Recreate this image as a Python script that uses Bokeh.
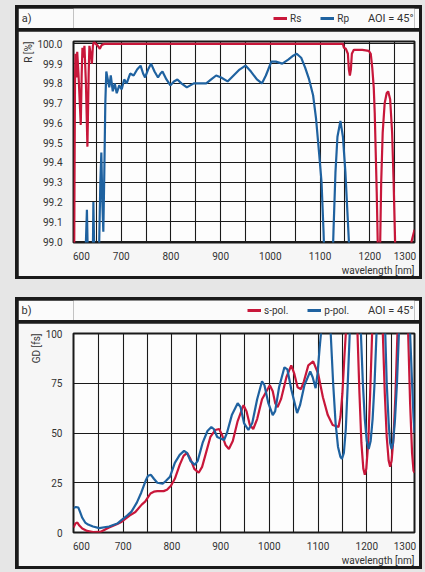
from bokeh.plotting import figure
from bokeh.layouts import column
from bokeh.models import (Range1d, FixedTicker, PrintfTickFormatter, Legend, LegendItem, Title, Label)
from bokeh.embed import file_html
from bokeh.resources import INLINE

# ---------------- data ----------------
# panel a: reflectance R [%]
wl_rs = [604, 606, 607, 608, 610, 611.5, 614, 618.6, 620.5, 622, 624, 626, 629, 632, 634.5, 636, 638.5, 641,
         643, 645, 649, 653, 657, 661, 666,
         1146, 1148, 1152, 1156, 1158, 1160, 1162, 1164, 1168, 1185, 1198, 1202, 1205, 1208, 1210, 1212, 1214,
         1216, 1218, 1219, 1221, 1223, 1226, 1230, 1234, 1237, 1241, 1245, 1248, 1251, 1254, 1260, 1270, 1278,
         1284, 1290]
rs = [98.0, 99.3, 99.8, 99.95, 99.83, 99.96, 99.85, 99.59, 99.85, 99.98, 99.93, 99.99, 99.8, 99.48, 99.85,
      99.99, 99.95, 99.9, 99.99, 100.01, 100.0, 99.99, 99.975, 99.995, 100.0,
      100.0, 99.98, 99.975, 99.95, 99.87, 99.84, 99.87, 99.95, 99.97, 99.97, 99.965, 99.95, 99.88, 99.78, 99.65,
      99.45, 99.25, 99.0, 98.7, 98.7, 99.0, 99.3, 99.55, 99.7, 99.75, 99.76, 99.72, 99.55, 99.3, 99.0, 98.6,
      98.3, 98.0, 98.3, 99.0, 99.06]

wl_rp = [604, 626, 629, 631, 633, 637, 642, 644, 646, 650, 655, 658, 660, 662, 664, 666, 668, 670, 673, 676,
         679, 683, 687, 691, 696, 701, 706, 711, 718, 725, 732, 739, 744, 748, 754, 760, 767, 774, 779, 783,
         791, 799, 806, 813, 821, 832, 839, 846, 859, 871, 881, 891, 901, 914, 926, 938, 950, 961, 973, 983,
         991, 1002, 1011, 1024, 1036, 1046, 1053, 1062, 1070, 1078, 1086, 1092, 1098, 1103, 1107, 1110, 1118,
         1124, 1127, 1131, 1135, 1141, 1146, 1151, 1155, 1159, 1163, 1170, 1290]
rp = [98.0, 98.6, 99.0, 99.16, 98.9, 98.5, 98.7, 99.2, 98.9, 98.6, 98.9, 99.3, 99.45, 99.2, 99.05, 99.35, 99.7,
      99.86, 99.82, 99.78, 99.84, 99.76, 99.80, 99.75, 99.79, 99.77, 99.82, 99.80, 99.85, 99.84, 99.87, 99.89,
      99.85, 99.83, 99.87, 99.90, 99.86, 99.83, 99.85, 99.86, 99.82, 99.79, 99.81, 99.82, 99.80, 99.78, 99.79,
      99.80, 99.80, 99.80, 99.82, 99.84, 99.83, 99.81, 99.84, 99.87, 99.89, 99.86, 99.82, 99.80, 99.84, 99.91,
      99.91, 99.90, 99.92, 99.94, 99.95, 99.93, 99.88, 99.82, 99.74, 99.62, 99.45, 99.3, 99.05, 98.8, 98.4,
      98.8, 99.05, 99.35, 99.53, 99.61, 99.53, 99.35, 99.15, 98.95, 98.6, 98.0, 98.0]

# panel b: group delay GD [fs]
wl_s = [598, 602, 606, 610, 616, 626, 638, 653, 671, 688, 697, 713, 725, 738, 745, 756, 763, 770, 783, 790,
        798, 806, 816, 824, 831, 838, 846, 855, 862, 870, 879, 889, 897, 903, 910, 917, 925, 935, 947, 953,
        960, 967, 975, 985, 1001, 1007, 1012, 1017, 1024, 1035, 1045, 1051, 1058, 1065, 1071, 1080, 1090,
        1100, 1110, 1120, 1130, 1142, 1146, 1150, 1154, 1157, 1162, 1176, 1181, 1185, 1189, 1193, 1196, 1199,
        1203, 1207, 1211, 1216, 1228, 1233, 1237, 1241, 1245, 1248, 1251, 1255, 1259, 1263, 1268, 1280, 1285,
        1289, 1293, 1296, 1298]
gd_s = [2.5, 4.5, 5, 3.5, 2, 0.8, 0.2, 0.3, 2.5, 4.3, 5.4, 8.5, 10.3, 14, 15.5, 19.6, 20.5, 20.8, 20.8, 21.5,
        23.5, 27, 34, 38.5, 40, 37, 32, 30, 33, 40, 48, 51.5, 52, 49, 44, 42, 46, 56, 64, 61,
        54, 52, 57, 67, 74, 71, 65, 63, 67, 78, 84, 80, 73, 72, 76, 84, 86,
        80, 68, 59, 54, 53, 58, 70, 88, 100, 130, 130, 100, 70, 45, 32, 29, 32,
        45, 70, 100, 130, 130, 100, 70, 48, 36, 33, 36, 48, 70, 100, 130, 130, 100,
        65, 40, 31, 30]

wl_p = [598, 603, 608, 612, 616, 622, 628, 638, 651, 671, 688, 697, 708, 717, 728, 737, 746, 751, 757, 763,
        770, 781, 788, 796, 806, 816, 825, 831, 838, 847, 853, 863, 873, 881, 886, 893, 907, 913, 923, 935,
        941, 948, 957, 965, 975, 985, 990, 998, 1007, 1012, 1020, 1031, 1037, 1045, 1057, 1063, 1072, 1084,
        1089, 1095, 1099, 1103, 1106, 1110, 1122, 1126, 1131, 1136, 1141, 1146, 1149, 1153, 1157, 1161, 1165,
        1170, 1183, 1188, 1192, 1196, 1200, 1204, 1208, 1212, 1216, 1220, 1225, 1233, 1238, 1241, 1245, 1248,
        1251, 1254, 1258, 1262, 1266, 1270, 1284, 1289, 1293, 1296, 1298]
gd_p = [12.3, 12.8, 12.5, 10, 7.4, 5, 4, 3, 2.2, 3, 4.5, 6.4, 8.5, 10.5, 15, 20, 26, 28.5, 29, 27,
        25, 24.5, 26, 28, 35, 39, 41, 40, 36, 34, 36, 45, 51, 53, 52, 48, 46.5, 50, 59, 65,
        63, 55, 51.5, 55, 67, 76, 74, 65, 59, 61, 73, 83, 82, 72, 60, 64, 74, 81,
        78, 72.5, 80, 92, 100, 130, 130, 100, 75, 55, 43, 38, 37, 40, 52, 75, 100,
        130, 130, 100, 75, 57, 46, 42, 46, 57, 75, 100, 130, 130, 100, 75, 55, 45,
        42, 45, 57, 75, 100, 130, 130, 100, 75, 58, 50]

x_labels = ["600", "700", "800", "900", "1000", "1100", "1200", "1300"]
x_label_vals = [600, 700, 800, 900, 1000, 1100, 1200, 1300]
x_grid = [650, 700, 750, 800, 850, 900, 950, 1000, 1050, 1100, 1150, 1200, 1250]
r_ticks = [99.0, 99.1, 99.2, 99.3, 99.4, 99.5, 99.6, 99.7, 99.8, 99.9, 100.0]
gd_ticks = [0, 25, 50, 75, 100]

RED = "#c8173a"
BLUE = "#1f62a0"
INK = "#1a1a1a"
TXT = "#333333"
FONT = "Roboto"
FIG_W = 401
BL, BR, BT = 45, 5, 10
FW = FIG_W - BL - BR      # frame width in px
HDR_H = 20


def panel_plot(xr, yr, yticks, fmt, ylabel, height, bottom):
    p = figure(width=FIG_W, height=height, x_range=Range1d(*xr), y_range=Range1d(*yr),
               output_backend="svg", toolbar_location=None,
               min_border_left=BL, min_border_right=BR, min_border_top=BT, min_border_bottom=bottom,
               background_fill_color="#fdfdfd", border_fill_color="#f6f6f6")
    p.outline_line_color = INK
    p.outline_line_width = 2
    lo, hi = xr
    span = hi - lo
    pos, over = [], {}
    for v, s in zip(x_label_vals, x_labels):
        if v < lo + 0.02 * span:
            q = lo + 0.023 * span
        elif v > hi - 0.02 * span:
            q = hi - 0.028 * span
        else:
            q = v
        pos.append(q)
        over[q] = s
    p.xaxis.ticker = FixedTicker(ticks=pos)
    p.xaxis.major_label_overrides = over
    p.xgrid.ticker = FixedTicker(ticks=x_grid)
    p.yaxis.ticker = FixedTicker(ticks=yticks)
    p.yaxis.formatter = PrintfTickFormatter(format=fmt)
    for ax in (p.xaxis[0], p.yaxis[0]):
        ax.axis_line_color = None
        ax.major_tick_line_color = None
        ax.minor_tick_line_color = None
        ax.major_label_text_font = FONT
        ax.major_label_text_font_size = "10px"
        ax.major_label_text_color = TXT
    p.xaxis.major_label_standoff = 3
    p.yaxis.major_label_standoff = 5
    for g in (p.xgrid[0], p.ygrid[0]):
        g.grid_line_color = INK
        g.grid_line_width = 1.1
        g.grid_line_alpha = 1
    p.add_layout(Title(text="wavelength [nm]", align="right", standoff=1, text_font=FONT,
                       text_font_size="10px", text_font_style="normal", text_color=TXT), "below")
    p.add_layout(Title(text=ylabel, align="right", standoff=1, text_font=FONT,
                       text_font_size="10px", text_font_style="normal", text_color=TXT), "left")
    return p


def header(tag, series, names, x0):
    # header strip; its frame lines up with the plot frame below, so x is in pixels from the frame
    h = figure(width=FIG_W, height=HDR_H, x_range=Range1d(0, FW), y_range=Range1d(0, HDR_H),
               output_backend="svg", toolbar_location=None, x_axis_location=None,
               min_border_left=BL, min_border_right=BR, min_border_top=0, min_border_bottom=0,
               background_fill_color="#fbfbfb", border_fill_color="#fbfbfb")
    h.outline_line_color = None
    h.grid.visible = False
    ya = h.yaxis[0]
    ya.ticker = FixedTicker(ticks=[HDR_H / 2])
    ya.major_label_overrides = {HDR_H / 2: tag}
    ya.axis_line_color = None
    ya.major_tick_line_color = None
    ya.minor_tick_line_color = None
    ya.major_label_standoff = 36
    ya.major_label_text_font = FONT
    ya.major_label_text_font_size = "11px"
    ya.major_label_text_color = TXT
    # legend swatches: the series themselves (they fall outside this strip's view)
    rends = [h.line(wx, wy, line_color=c, line_width=3) for (wx, wy, c) in series]
    leg = Legend(items=[LegendItem(label=n, renderers=[r]) for n, r in zip(names, rends)],
                 location=(x0, 4), orientation="horizontal", glyph_width=14, glyph_height=12,
                 label_height=12, label_width=0, label_standoff=3, spacing=19, padding=0, margin=0,
                 border_line_alpha=0, background_fill_alpha=0, label_text_font=FONT,
                 label_text_font_size="10px", label_text_color=TXT)
    h.add_layout(leg)
    h.add_layout(Label(x=FW - 1, y=HDR_H / 2, text="AOI = 45°", text_font=FONT, text_font_size="11px",
                       text_color=TXT, text_align="right", text_baseline="middle"))
    return h


# panel a
pa = panel_plot((604, 1290), (98.995, 100.012), r_ticks, "%.1f", "R [%]", 245, 29)
pa.line(wl_rs, rs, line_color=RED, line_width=2.2)
pa.line(wl_rp, rp, line_color=BLUE, line_width=2.2)
ha = header("a)", [(wl_rs, rs, RED), (wl_rp, rp, BLUE)], ["Rs", "Rp"], 200)

# panel b
pb = panel_plot((598, 1298), (0, 100), gd_ticks, "%d", "GD [fs]", 243, 28)
pb.line(wl_s, gd_s, line_color=RED, line_width=2.2)
pb.line(wl_p, gd_p, line_color=BLUE, line_width=2.2)
hb = header("b)", [(wl_s, gd_s, RED), (wl_p, gd_p, BLUE)], ["s-pol.", "p-pol."], 174)

panel_style = {"padding": "3px", "background-color": INK}
panel_a = column(ha, pa, spacing=3, styles=panel_style)
panel_b = column(hb, pb, spacing=3, styles=panel_style)
panel_a.margin = (5, 0, 0, 15)
panel_b.margin = (0, 0, 0, 15)

root = column(panel_a, panel_b, spacing=18, width=425,
              styles={"background-color": "#e6e6e6"})
try:
    from bokeh.models import GlobalInlineStyleSheet
    root.stylesheets = [GlobalInlineStyleSheet(css="html, body { background-color: #e6e6e6; }")]
except Exception:
    pass

with open("out.html", "w") as f:
    f.write(file_html(root, INLINE))
